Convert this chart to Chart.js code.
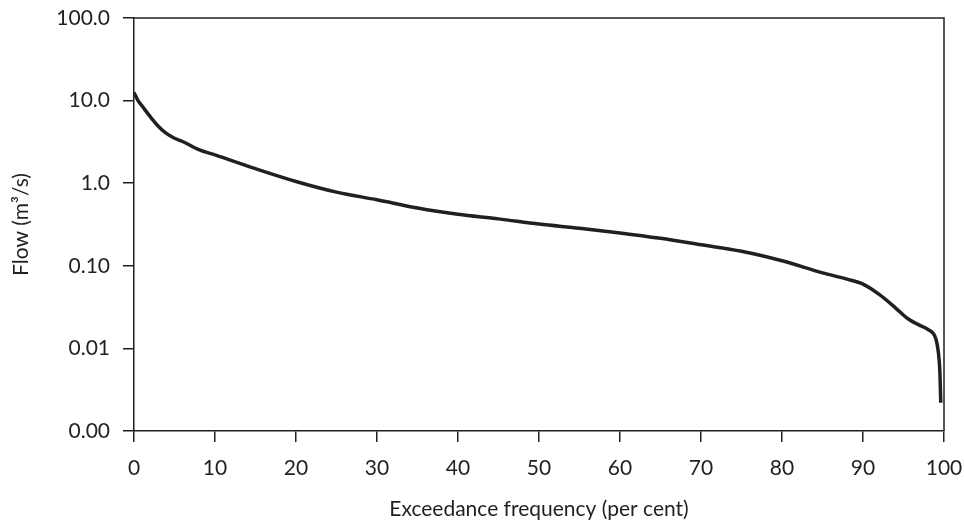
<!DOCTYPE html>
<html>
<head>
<meta charset="utf-8">
<script src="https://cdn.jsdelivr.net/npm/chart.js"></script>
<style>
  html, body { margin: 0; padding: 0; background: #fff; }
  #wrap { width: 964px; height: 524px; }
</style>
</head>
<body>
<div id="wrap"><canvas id="flowChart"></canvas></div>
<script>
// flow duration curve
const exceedance = [0, 0.5, 1, 2, 3, 4, 5, 6, 8, 10, 15, 20, 25, 30, 35, 40, 45, 50, 55, 60, 65, 70, 75, 80, 85, 88, 90, 92, 94, 95.5, 97, 98, 99, 99.3, 99.5, 99.6];
const flow = [12.5, 10, 8.6, 6.4, 4.9, 4.0, 3.5, 3.2, 2.55, 2.2, 1.5, 1.05, 0.78, 0.63, 0.5, 0.42, 0.37, 0.32, 0.285, 0.25, 0.215, 0.18, 0.15, 0.115, 0.082, 0.069, 0.06, 0.045, 0.031, 0.023, 0.019, 0.017, 0.013, 0.009, 0.005, 0.0022];

const yTickValues = [0.001, 0.01, 0.1, 1, 10, 100];
const yTickLabels = ['0.00', '0.01', '0.10', '1.0', '10.0', '100.0'];
const xTickValues = [0, 10, 20, 30, 40, 50, 60, 70, 80, 90, 100];

const ink = '#231f20';
const font = { family: 'Lato, "Open Sans", sans-serif', size: 21 };

// top and right frame lines
const frame = {
    id: 'frame',
    afterDraw(chart) {
        const { ctx, chartArea: a } = chart;
        ctx.save();
        ctx.strokeStyle = ink;
        ctx.lineWidth = 1.5;
        ctx.beginPath();
        ctx.moveTo(a.left, a.top);
        ctx.lineTo(a.right, a.top);
        ctx.lineTo(a.right, a.bottom);
        ctx.stroke();
        ctx.restore();
    }
};

const ctx = document.getElementById('flowChart').getContext('2d');
new Chart(ctx, {
    type: 'scatter',
    data: {
        datasets: [{
            data: exceedance.map((x, i) => ({ x: x, y: flow[i] })),
            showLine: true,
            borderColor: ink,
            borderWidth: 3.5,
            pointRadius: 0,
            cubicInterpolationMode: 'monotone'
        }]
    },
    options: {
        responsive: true,
        maintainAspectRatio: false,
        animation: false,
        layout: { padding: { left: 0, right: 20, top: 18, bottom: 0 } },
        plugins: { legend: { display: false }, tooltip: { enabled: false } },
        scales: {
            x: {
                type: 'linear',
                min: 0,
                max: 100,
                afterBuildTicks: s => { s.ticks = xTickValues.map(v => ({ value: v })); },
                afterFit: s => { s.height = 524 - 431; s.paddingLeft = 0; s.paddingRight = 0; },
                grid: { drawOnChartArea: false, drawTicks: true, tickLength: 11, color: ink, lineWidth: 1.5 },
                border: { color: ink, width: 1.5 },
                ticks: { color: ink, font: font, padding: 14, maxRotation: 0 },
                title: { display: true, text: 'Exceedance frequency (per cent)', color: ink, font: font, padding: { top: 0, bottom: 2 } }
            },
            y: {
                type: 'logarithmic',
                min: 0.001,
                max: 100,
                afterBuildTicks: s => { s.ticks = yTickValues.map(v => ({ value: v })); },
                afterFit: s => { s.width = 134; s.paddingTop = 0; s.paddingBottom = 0; },
                grid: { drawOnChartArea: false, drawTicks: true, tickLength: 11, color: ink, lineWidth: 1.5 },
                border: { color: ink, width: 1.5 },
                ticks: {
                    color: ink, font: font, padding: 13,
                    callback: (v) => {
                        const i = yTickValues.findIndex(t => Math.abs(t - v) < t * 1e-6);
                        return i >= 0 ? yTickLabels[i] : '';
                    }
                },
                title: { display: true, text: 'Flow (m³/s)', color: ink, font: font, padding: { top: 9, bottom: 0 } }
            }
        }
    },
    plugins: [frame]
});
</script>
</body>
</html>
